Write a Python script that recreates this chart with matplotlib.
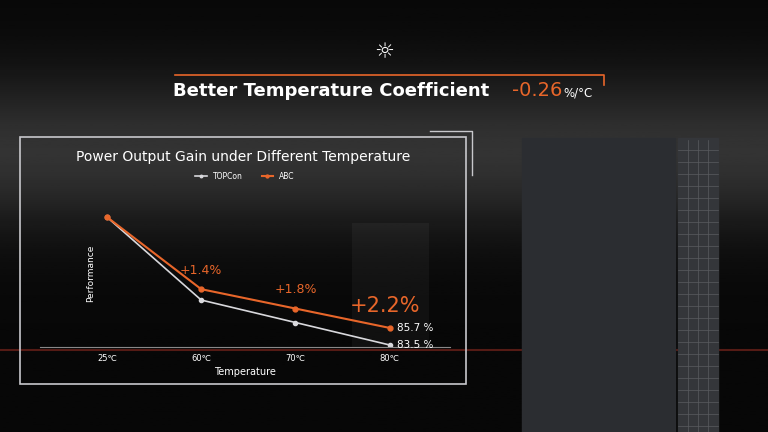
import numpy as np
import matplotlib.pyplot as plt
from matplotlib.patches import Rectangle

temps = ["25℃", "60℃", "70℃", "80℃"]
topcon = [100.0, 89.3, 86.4, 83.5]
abc = [100.0, 90.7, 88.2, 85.7]
gains = ["+1.4%", "+1.8%", "+2.2%"]
end_labels = ["85.7 %", "83.5 %"]

orange = "#e8662a"
white = "#d8d8dc"
bg = "#060708"

fig = plt.figure(figsize=(7.68, 4.32), dpi=100, facecolor=bg)
W, H = 768, 432

def box(x0, y0, x1, y1):
    # pixel box (top-left origin) -> figure fraction
    return [x0 / W, 1 - y1 / H, (x1 - x0) / W, (y1 - y0) / H]

# background: black top, grey haze around the middle
bgax = fig.add_axes([0, 0, 1, 1])
t = np.linspace(0, 1, 200)[:, None]
shade = 0.03 + 0.17 * np.exp(-((t - 0.35) / 0.18) ** 2)
bgax.imshow(shade, cmap="gray", vmin=0, vmax=1, aspect="auto", extent=[0, 1, 0, 1])
bgax.set_xlim(0, 1)
bgax.set_ylim(0, 1)
bgax.axis("off")

# solar panel on the right
bgax.add_patch(Rectangle((522 / W, 0), 153 / W, 1 - 138 / H, color="#2b2d31", zorder=2))
bgax.add_patch(Rectangle((678 / W, 0), 40 / W, 1 - 138 / H, color="#34363a", zorder=2))
for i in range(1, 4):
    bgax.plot([(678 + i * 10) / W] * 2, [0, 1 - 140 / H], color="#5a5c60", lw=0.5, zorder=3)
for yy in range(150, 432, 12):
    bgax.plot([678 / W, 718 / W], [1 - yy / H] * 2, color="#5a5c60", lw=0.5, zorder=3)

# chart frame
bgax.add_patch(Rectangle((20 / W, 1 - 384 / H), 446 / W, 247 / H, fill=False,
                         ec="#c8c8cc", lw=1.2, zorder=4))
bgax.plot([430 / W, 472 / W, 472 / W], [1 - 131 / H, 1 - 131 / H, 1 - 175 / H], color="#c8c8cc", lw=1)
bgax.plot([0, 1], [1 - 350 / H] * 2, color="#8a2a20", lw=1.5, alpha=0.6, zorder=1)

# headline
bgax.text(0.5, 1 - 52 / H, "☼", color="white", fontsize=16, ha="center", va="center")
bgax.plot([175 / W, 604 / W, 604 / W], [1 - 75 / H, 1 - 75 / H, 1 - 85 / H], color=orange, lw=1.2)
bgax.text(173 / W, 1 - 91 / H, "Better Temperature Coefficient", color="white", fontsize=13,
          fontweight="bold", ha="left", va="center")
bgax.text(512 / W, 1 - 91 / H, "-0.26", color=orange, fontsize=14, ha="left", va="center")
bgax.text(563 / W, 1 - 93 / H, "%/°C", color="white", fontsize=8.5, ha="left", va="center")
bgax.text(0.5 * (20 + 466) / W, 1 - 157 / H, "Power Output Gain under Different Temperature",
          color="white", fontsize=10, ha="center", va="center")

# data axes
ax = fig.add_axes(box(40, 200, 450, 347))
ax.set_facecolor("none")
x = np.arange(len(temps))
ax.set_xlim(-0.71, 3.64)
ax.set_ylim(83.24, 102.2)
ax.add_patch(Rectangle((2.6, 83.24), 0.82, 16, color="white", alpha=0.04, lw=0))
ax.plot(x, topcon, "-o", color=white, lw=1.2, ms=3, label="TOPCon")
ax.plot(x, abc, "-o", color=orange, lw=1.5, ms=3.5, label="ABC")
for i, g in enumerate(gains):
    xi = i + 1
    if i < 2:
        ax.text(xi, abc[xi] + 1.6, g, color=orange, fontsize=9, ha="center", va="bottom")
    else:
        ax.text(xi - 0.05, abc[xi] + 1.5, g, color=orange, fontsize=15, ha="center", va="bottom")
ax.text(3.0 + 0.08, abc[3], end_labels[0], color="white", fontsize=7.5, va="center")
ax.text(3.0 + 0.08, topcon[3], end_labels[1], color="white", fontsize=7.5, va="center")
ax.set_xticks(x)
ax.set_xticklabels(temps, color="white", fontsize=6)
ax.tick_params(length=0, pad=5)
ax.set_yticks([])
for s in ["top", "right", "left"]:
    ax.spines[s].set_visible(False)
ax.spines["bottom"].set_color("#888888")
ax.set_xlabel("Temperature", color="white", fontsize=7, labelpad=3)
ax.set_ylabel("Performance", color="white", fontsize=6.5, labelpad=-40)
leg = ax.legend(loc="center", bbox_to_anchor=(0.5, 1.16), ncol=2, frameon=False,
                fontsize=5.5, labelcolor="white", handlelength=1.5, markerscale=0.6,
                columnspacing=2.5)

fig.savefig("out.png", dpi=100, facecolor=bg)
